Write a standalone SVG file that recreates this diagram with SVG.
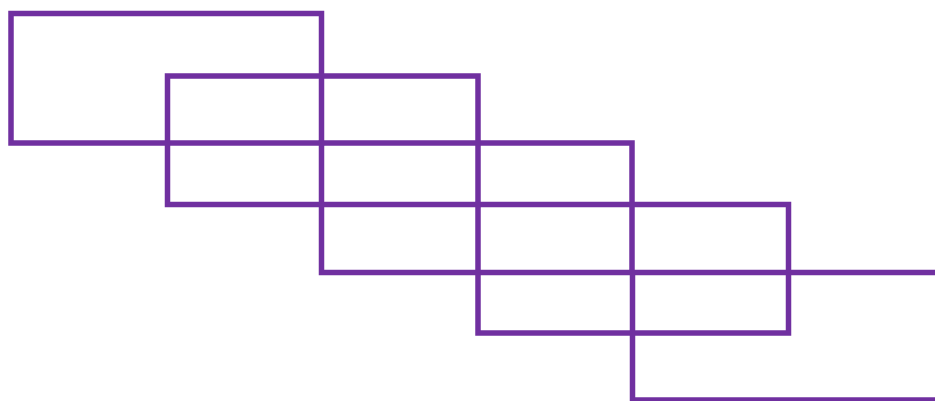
<svg xmlns="http://www.w3.org/2000/svg" width="935" height="401" viewBox="0 0 935 401">
  <style>
    .box { fill: none; stroke: #7030a0; stroke-width: 5.5; stroke-linejoin: miter; }
  </style>
  <rect x="0" y="0" width="935" height="401" fill="#ffffff"/>
  <g id="box1"><rect class="box" x="11" y="13.5" width="310.5" height="129.5"/></g>
  <g id="box2"><rect class="box" x="167.5" y="76" width="310.5" height="128.5"/></g>
  <g id="box3"><rect class="box" x="321.5" y="143" width="310.5" height="129.5"/></g>
  <g id="box4"><rect class="box" x="478" y="204.5" width="310.5" height="128.5"/></g>
  <g id="box5"><rect class="box" x="632.5" y="272.5" width="310.5" height="127.5"/></g>
  <g id="connectors"></g>
</svg>
